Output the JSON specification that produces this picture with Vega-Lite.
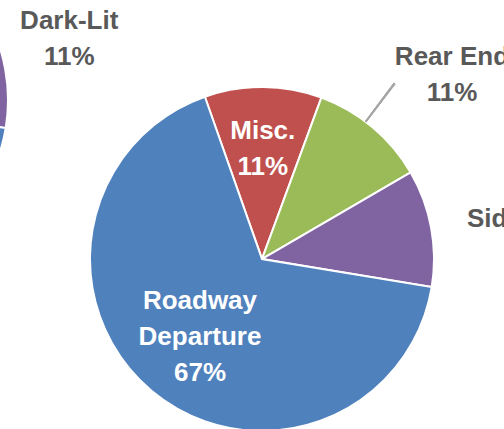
{
  "$schema": "https://vega.github.io/schema/vega-lite/v6.json",
  "width": 524,
  "height": 518,
  "autosize": "none",
  "padding": 0,
  "background": "white",
  "config": {"view": {"stroke": null}, "text": {"font": "Liberation Sans"}},
  "datasets": {
    "crashType": [
      {"type": "Misc.", "label": "Misc.\n11%", "pct": 11, "k": 1},
      {"type": "Rear End", "label": "Rear End\n11%", "pct": 11, "k": 2},
      {"type": "Sideswipe", "label": "Sideswipe\n11%", "pct": 11, "k": 3},
      {"type": "Roadway Departure", "label": "Roadway\nDeparture\n67%", "pct": 67, "k": 4}
    ],
    "lighting": [
      {"type": "Dawn/Dusk", "label": "Dawn/Dusk\n11%", "pct": 11, "k": 1},
      {"type": "Dark-Unlit", "label": "Dark-Unlit\n11%", "pct": 11, "k": 2},
      {"type": "Dark-Lit", "label": "Dark-Lit\n11%", "pct": 11, "k": 3},
      {"type": "Daylight", "label": "Daylight\n67%", "pct": 67, "k": 4}
    ]
  },
  "layer": [
    {
      "data": {"name": "lighting"},
      "mark": {"type": "arc", "outerRadius": 172, "stroke": "white", "strokeWidth": 2, "x": -164, "y": 100},
      "encoding": {
        "theta": {"field": "pct", "type": "quantitative", "stack": true, "scale": {"domain": [0, 100], "range": [-0.3386, 5.9446]}},
        "color": {
          "field": "type", "type": "nominal", "legend": null,
          "scale": {
            "domain": ["Misc.", "Rear End", "Sideswipe", "Roadway Departure", "Dawn/Dusk", "Dark-Unlit", "Dark-Lit", "Daylight"],
            "range": ["#C0504D", "#9BBB59", "#8064A2", "#4F81BD", "#C0504D", "#9BBB59", "#8064A2", "#4F81BD"]
          }
        },
        "order": {"field": "k", "type": "quantitative"}
      }
    },
    {
      "data": {"name": "lighting"},
      "mark": {"type": "text", "x": -164, "y": 100, "radius": 241, "thetaOffset": -0.073, "dy": -18, "lineBreak": "\n", "fontSize": 26, "fontWeight": "bold", "color": "#595959", "lineHeight": 36},
      "encoding": {
        "theta": {"field": "pct", "type": "quantitative", "stack": true},
        "order": {"field": "k", "type": "quantitative"},
        "text": {"condition": {"test": "datum.type === 'Dark-Lit'", "field": "label"}, "value": ""}
      }
    },
    {
      "data": {"name": "crashType"},
      "mark": {"type": "arc", "outerRadius": 172, "stroke": "white", "strokeWidth": 2},
      "encoding": {
        "theta": {"field": "pct", "type": "quantitative", "stack": true},
        "color": {"field": "type", "type": "nominal", "legend": null},
        "order": {"field": "k", "type": "quantitative"}
      }
    },
    {
      "data": {"name": "crashType"},
      "mark": {"type": "arc", "innerRadius": 172, "outerRadius": 220, "color": "#A6A6A6"},
      "encoding": {
        "theta": {"datum": 15.61},
        "theta2": {"datum": 15.76}
      }
    },
    {
      "data": {"name": "crashType"},
      "mark": {"type": "text", "radius": 114, "dy": -14, "lineBreak": "\n", "fontSize": 26, "fontWeight": "bold", "color": "white", "lineHeight": 36},
      "encoding": {
        "theta": {"field": "pct", "type": "quantitative", "stack": true},
        "order": {"field": "k", "type": "quantitative"},
        "text": {"condition": {"test": "datum.type === 'Misc.'", "field": "label"}, "value": ""}
      }
    },
    {
      "data": {"name": "crashType"},
      "mark": {"type": "text", "radius": 96.5, "dy": -32, "lineBreak": "\n", "fontSize": 26, "fontWeight": "bold", "color": "white", "lineHeight": 36},
      "encoding": {
        "theta": {"field": "pct", "type": "quantitative", "stack": true},
        "order": {"field": "k", "type": "quantitative"},
        "text": {"condition": {"test": "datum.type === 'Roadway Departure'", "field": "label"}, "value": ""}
      }
    },
    {
      "data": {"name": "crashType"},
      "mark": {"type": "text", "radius": 264.5, "thetaOffset": 0.103, "dy": -18, "lineBreak": "\n", "fontSize": 26, "fontWeight": "bold", "color": "#595959", "lineHeight": 36},
      "encoding": {
        "theta": {"field": "pct", "type": "quantitative", "stack": true},
        "order": {"field": "k", "type": "quantitative"},
        "text": {"condition": {"test": "datum.type === 'Rear End'", "field": "label"}, "value": ""}
      }
    },
    {
      "data": {"name": "crashType"},
      "mark": {"type": "text", "radius": 269.7, "thetaOffset": 0.089, "dy": -15, "lineBreak": "\n", "fontSize": 26, "fontWeight": "bold", "color": "#595959", "lineHeight": 36},
      "encoding": {
        "theta": {"field": "pct", "type": "quantitative", "stack": true},
        "order": {"field": "k", "type": "quantitative"},
        "text": {"condition": {"test": "datum.type === 'Sideswipe'", "field": "label"}, "value": ""}
      }
    }
  ]
}
